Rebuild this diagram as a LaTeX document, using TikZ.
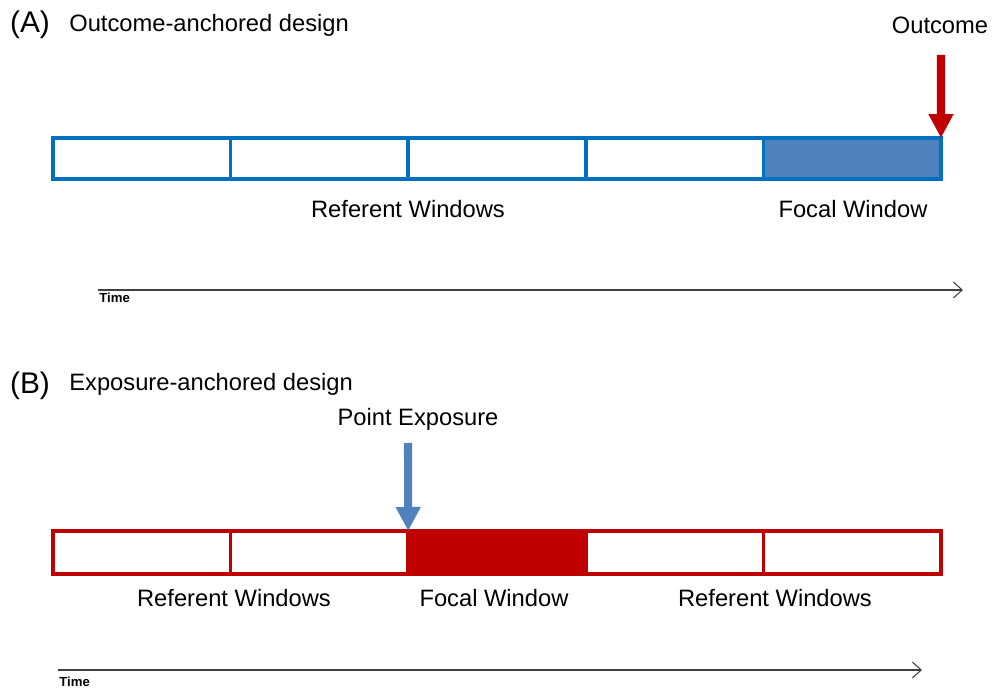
\documentclass[tikz,border=0pt]{standalone}
\usepackage{fontspec}
\setmainfont{Liberation Sans}
\usetikzlibrary{arrows.meta,positioning}
\definecolor{edgeblue}{HTML}{0070C0}
\definecolor{focalblue}{HTML}{4F81BD}
\definecolor{edgered}{HTML}{C00000}
\definecolor{axisgray}{HTML}{404040}
\begin{document}
\begin{tikzpicture}[x=0.02cm,y=-0.02cm,
        cellA/.style={rectangle,draw=edgeblue,line width=2pt,
                minimum width=3.552cm,minimum height=0.82cm,inner sep=0pt,outer sep=0pt},
        cellB/.style={cellA,draw=edgered,minimum height=0.86cm},
        txt/.style={font=\fontsize{13.5}{16}\selectfont,inner sep=0pt},
        panel/.style={font=\fontsize{17}{20}\selectfont,inner sep=0pt},
        timelbl/.style={font=\fontsize{7.5}{9}\selectfont\bfseries,inner sep=0pt},
        timeaxis/.style={draw=axisgray,line width=0.6pt,-{Straight Barb[length=5pt,width=9pt]}},
        downarrow/.style={line width=4.6pt,-{Triangle[length=0.48cm,width=0.47cm]}}]
\useasboundingbox (0,0) rectangle (992,689);

% (A) outcome-anchored
\node[panel] (panelA) at (30,25) {(A)};
\node[txt,anchor=west] (titleA) at (69,25) {Outcome-anchored design};
\foreach \i in {1,...,4}
   \node[cellA] (a\i) at ({141.8+(\i-1)*177.6},158.5) {};
\node[cellA,fill=focalblue] (a5) at ({141.8+4*177.6},158.5) {};
\node[txt] (outlbl) at (940,25) {Outcome};
\coordinate (outtop) at (941,55);
\draw[downarrow,draw=edgered,fill=edgered] (outtop) -- (a5.north east);
\node[txt] (refA) at (408,209) {Referent Windows};
\node[txt] (focA) at (853,209) {Focal Window};
\coordinate (tA0) at (98,290);
\coordinate (tA1) at (963,290);
\draw[timeaxis] (tA0) -- (tA1);
\node[timelbl,anchor=north west] (timeA) at (99,293) {Time};

% (B) exposure-anchored
\node[panel] (panelB) at (30,386) {(B)};
\node[txt,anchor=west] (titleB) at (69,384) {Exposure-anchored design};
\foreach \i in {1,2,4,5}
   \node[cellB] (b\i) at ({141.8+(\i-1)*177.6},552.5) {};
\node[cellB,fill=edgered] (b3) at ({141.8+2*177.6},552.5) {};
\node[txt] (explbl) at (418,419) {Point Exposure};
\coordinate (exptop) at (408,443);
\draw[downarrow,draw=focalblue,fill=focalblue] (exptop) -- (b3.north west);
\node[txt] (refB1) at (234,598) {Referent Windows};
\node[txt] (focB) at (494,598) {Focal Window};
\node[txt] (refB2) at (775,598) {Referent Windows};
\coordinate (tB0) at (58,670);
\coordinate (tB1) at (922,670);
\draw[timeaxis] (tB0) -- (tB1);
\node[timelbl,anchor=north west] (timeB) at (59,677) {Time};
\end{tikzpicture}
\end{document}
